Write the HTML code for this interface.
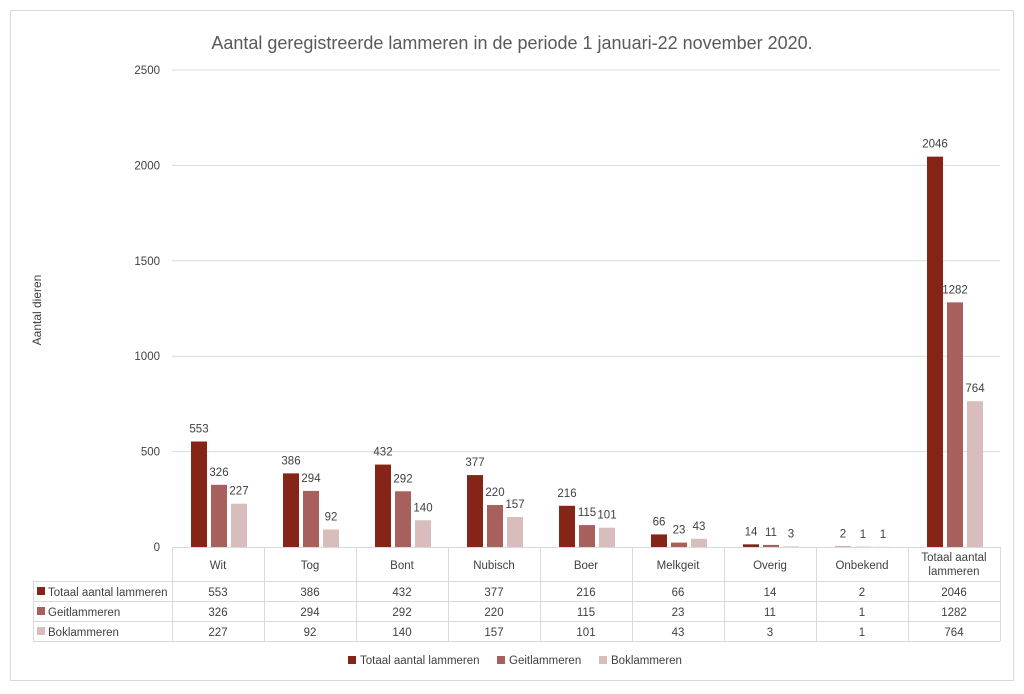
<!DOCTYPE html>
<html><head><meta charset="utf-8"><style>
body{margin:0;background:#fff;font-family:"Liberation Sans",sans-serif}
svg text{font-family:"Liberation Sans",sans-serif;fill:#404040}
</style></head><body>
<svg id="c" width="1024" height="689">
<rect x="10.5" y="10.5" width="1003" height="670" fill="#fff" stroke="#d9d9d9"/>
<text x="512" y="49" font-size="18" text-anchor="middle" style="fill:#595959">Aantal geregistreerde lammeren in de periode 1 januari-22 november 2020.</text>
<text transform="translate(41,310) rotate(-90)" font-size="12" text-anchor="middle">Aantal dieren</text>
<g id="g"></g>
</svg>
<script>
const categories=["Wit","Tog","Bont","Nubisch","Boer","Melkgeit","Overig","Onbekend","Totaal aantal|lammeren"];
const seriesNames=["Totaal aantal lammeren","Geitlammeren","Boklammeren"];
const totaal=[553,386,432,377,216,66,14,2,2046];
const geit=[326,294,292,220,115,23,11,1,1282];
const bok=[227,92,140,157,101,43,3,1,764];
const yTicks=[0,500,1000,1500,2000,2500];
const colors=["#842518","#a8605c","#d9bcbc"];
const series=[totaal,geit,bok];
const NS="http://www.w3.org/2000/svg",g=document.getElementById('g');
const x0=172,x1=1000,y0=547,yTop=70,ymax=2500;
const cw=(x1-x0)/categories.length;
const y=v=>y0-(v/ymax)*(y0-yTop);
function el(t,a,txt){const e=document.createElementNS(NS,t);for(const k in a)e.setAttribute(k,a[k]);if(txt!=null)e.textContent=txt;g.appendChild(e);return e;}
yTicks.forEach(t=>{
 if(t>0){const l=el('line',{x1:x0,x2:x1,y1:y(t),y2:y(t),stroke:'#d9d9d9'});
 
 }
 const tx=el('text',{x:160,y:y(t)+4,'font-size':11.5,'text-anchor':'end'},t);
 
 
});
const bw=16,gap=4;
series.forEach((s,si)=>{
 s.forEach((v,ci)=>{
  const bx=x0+ci*cw+19+si*(bw+gap);
  const r=el('rect',{x:bx,y:y(v),width:bw,height:y0-y(v),fill:colors[si]});
  
  
  const t=el('text',{x:bx+bw/2,y:y(v)-9,'font-size':11.5,'text-anchor':'middle'},v);
  
  
 });
});
const tc='#d9d9d9';
const rows=[547,581,601,621,641];
for(let i=0;i<=categories.length;i++){
 const xx=x0+i*cw+.5;
 const l=el('line',{x1:xx,x2:xx,y1:547,y2:641,stroke:tc});
 
 
}
const l0=el('line',{x1:33.5,x2:33.5,y1:581,y2:641,stroke:tc});


rows.forEach((ry,i)=>{
 const l=el('line',{x1:i==0?x0:33,x2:x1,y1:ry+.5,y2:ry+.5,stroke:tc});
 
 
});
categories.forEach((c,ci)=>{
 const cx=x0+ci*cw+cw/2;const parts=c.split('|');
 parts.forEach((p,pi)=>{
  const t=el('text',{x:cx,y:parts.length>1?561+pi*14:569,'font-size':11.5,'text-anchor':'middle'},p);
  
  
 });
 series.forEach((s,si)=>{
  const t=el('text',{x:cx,y:rows[si+1]+15,'font-size':11.5,'text-anchor':'middle'},s[ci]);
  
  
 });
});
seriesNames.forEach((n,si)=>{
 const r=el('rect',{x:37,y:rows[si+1]+6,width:8,height:8,fill:colors[si]});
 
 
 const t=el('text',{x:48,y:rows[si+1]+15,'font-size':11.5},n);
 
 
});
const lx=[348,497,599];
seriesNames.forEach((n,si)=>{
 const r=el('rect',{x:lx[si],y:656,width:8,height:8,fill:colors[si]});
 
 
 const t=el('text',{x:lx[si]+12,y:664,'font-size':11.5},n);
 
 
});
</script>
</body></html>
